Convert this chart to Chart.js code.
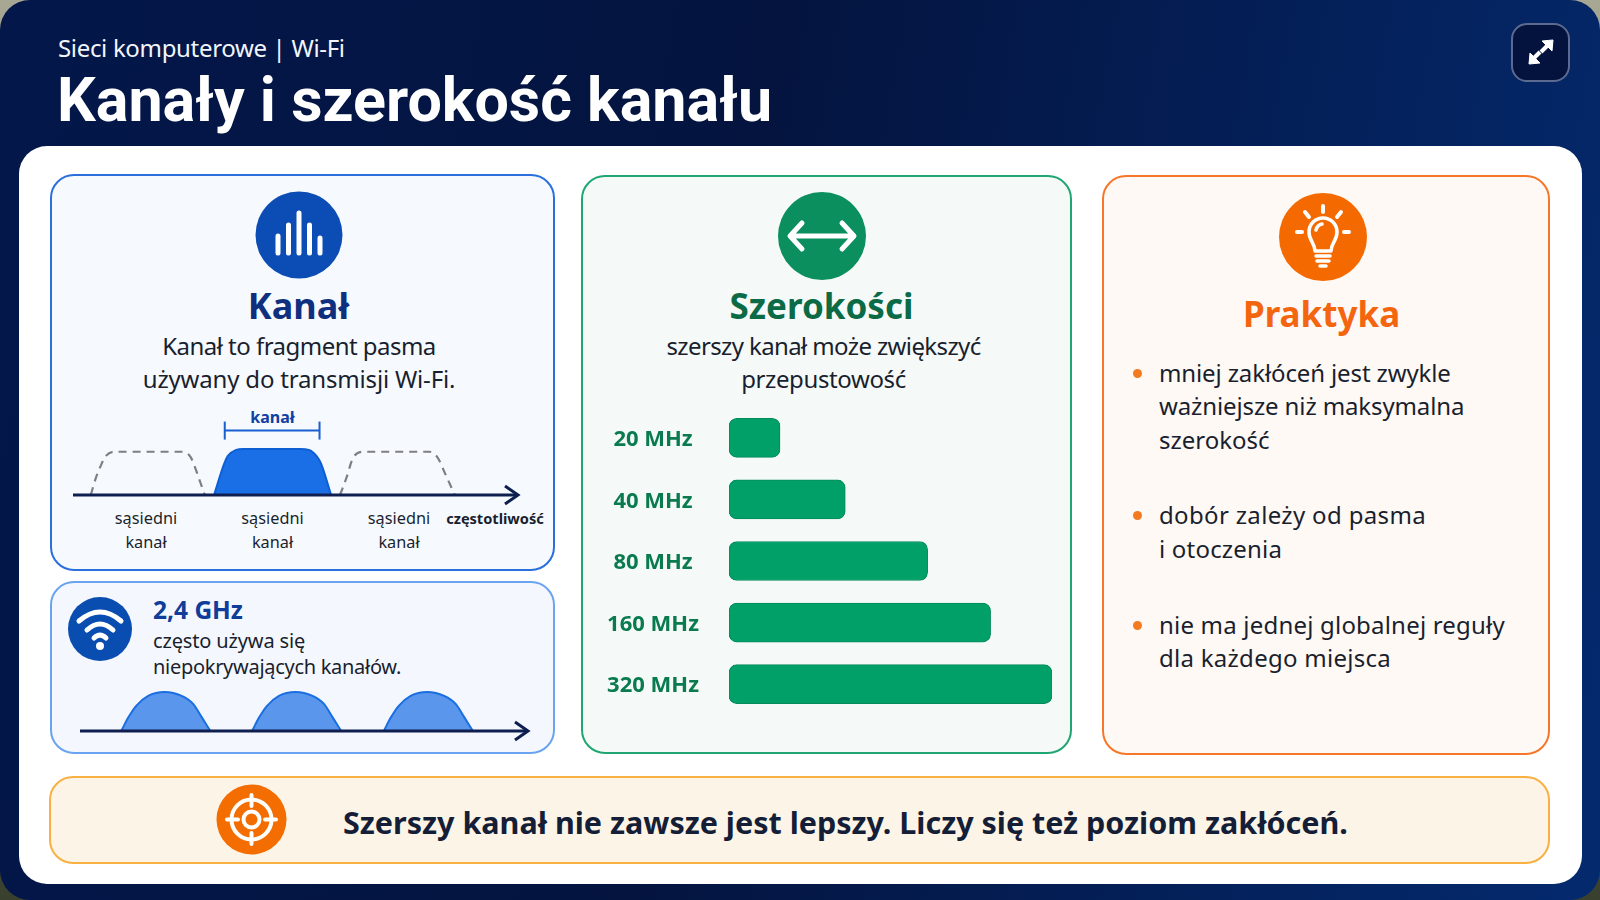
<!DOCTYPE html>
<html lang="pl">
<head>
<meta charset="utf-8">
<title>Kanały i szerokość kanału</title>
<script src="https://cdn.jsdelivr.net/npm/chart.js@4/dist/chart.umd.min.js"></script>
<style>
  html, body { margin: 0; width: 1600px; height: 900px; overflow: hidden; background: linear-gradient(#a7a794, #39402e); font-family: "Noto Sans", sans-serif; color: #1a1f2e; }
  #slide { position: absolute; inset: 0; border-radius: 30px; background: linear-gradient(100deg, #03174a, #04143f 45%, #042a6e); overflow: hidden; }
  #sheet { position: absolute; left: 18.5px; top: 146px; width: 1563px; height: 738px; background: #fff; border-radius: 28px; }
  .card { position: absolute; box-sizing: border-box; border: 2px solid; border-radius: 24px; }
  .t { position: absolute; white-space: nowrap; transform: translateY(-50%); line-height: 1.2; }
  .c { transform: translate(-50%, -50%); }
  .b { font-weight: 700; }
  .dot { position: absolute; width: 9px; height: 9px; border-radius: 50%; background: #f47a20; }
  canvas, svg { position: absolute; }
  #expand { position: absolute; left: 1511px; top: 22.5px; width: 59px; height: 59px; box-sizing: border-box; border: 2px solid #5b6a8e; border-radius: 16px; background: #04133d; }
</style>
</head>
<body>
<div id="slide">
  <div class="t" style="left:58px;top:47.5px;font-size:24px;letter-spacing:-0.33px;color:#f2f5fb">Sieci komputerowe | Wi-Fi</div>
  <div class="t b" style="left:57px;top:101px;font-family:Roboto;font-size:61px;color:#fff">Kanały i szerokość kanału</div>
  <div id="expand"></div>
  <svg style="left:1511px;top:22px" width="59" height="59" fill="#fff" stroke="#fff" stroke-width="4">
    <path d="M36 24 L30 30" fill="none"/><path d="M23 36 L29 30" fill="none" stroke-dasharray="0"/>
    <path d="M42 18 L31 19 L41 29 Z" stroke-width="1"/><path d="M18 42 L29 41 L19 31 Z" stroke-width="1"/>
  </svg>
  <div id="sheet"></div>
</div>

<div class="card" style="left:50px;top:174px;width:505px;height:397px;border-color:#2a6fdc;background:#f6fafe"></div>
<div class="card" style="left:50px;top:581px;width:505px;height:173px;border-color:#6aa3ef;background:#f4f8fe"></div>
<div class="card" style="left:581px;top:175px;width:491px;height:579px;border-color:#1fa672;background:#f5faf9"></div>
<div class="card" style="left:1102px;top:175px;width:448px;height:580px;border-color:#f5772a;background:#fef9f4"></div>
<div class="card" style="left:49px;top:776px;width:1501px;height:88px;border-color:#f8b040;background:#fdf4e8"></div>

<!-- ikony -->
<svg style="left:255px;top:191px" width="88" height="88" fill="none" stroke="#fff" stroke-width="5" stroke-linecap="round">
  <circle cx="44" cy="44" r="43.5" fill="#0b4db5" stroke="none"/>
  <path d="M23 45 V62 M33.5 34 V62 M44 22 V62 M54.5 34 V62 M65 47 V62"/>
</svg>
<svg style="left:778px;top:192px" width="88" height="88" fill="none" stroke="#fff" stroke-width="5" stroke-linecap="round" stroke-linejoin="round">
  <circle cx="44" cy="44" r="44" fill="#0b8f5e" stroke="none"/>
  <path d="M14 44 H74 M24 31 L12 44 L24 57 M64 31 L76 44 L64 57"/>
</svg>
<svg style="left:1279px;top:193px" width="88" height="88" fill="none" stroke="#fff" stroke-width="3.5" stroke-linecap="round" stroke-linejoin="round">
  <circle cx="44" cy="44" r="44" fill="#f56a00" stroke="none"/>
  <path d="M36 58 C36 50 30 48 30 39 A14 14 0 0 1 58 39 C58 48 52 50 52 58 Z"/>
  <path d="M37 63 H51 M38 68 H50 M41 73 H47 M37 37 A8 8 0 0 1 43 31"/>
  <path d="M44 13 V19 M26 19 L30 24 M62 19 L58 24 M18 39 H23 M65 39 H70" stroke-width="4"/>
</svg>
<svg style="left:68px;top:597px" width="64" height="64" fill="none" stroke="#fff" stroke-width="5" stroke-linecap="round">
  <circle cx="32" cy="32" r="32" fill="#0a4db0" stroke="none"/>
  <path d="M11 24 Q32 6 53 24 M19 33 Q32 21 45 33 M26 41 Q32 35 38 41"/>
  <circle cx="32" cy="49" r="4" fill="#fff" stroke="none"/>
</svg>
<svg style="left:216px;top:784px" width="71" height="71" fill="none" stroke="#fff" stroke-width="4" stroke-linecap="round">
  <circle cx="35.5" cy="35.5" r="35" fill="#f36d00" stroke="none"/>
  <circle cx="35.5" cy="35.5" r="20"/><circle cx="35.5" cy="35.5" r="8"/>
  <path d="M35.5 11 V22 M35.5 49 V60 M11 35.5 H22 M49 35.5 H60"/>
</svg>

<!-- karta Kanał -->
<div class="t c b" style="left:298.5px;top:306px;font-size:36px;color:#0f2f7f">Kanał</div>
<div class="t c" style="left:299px;top:346px;font-size:24px;letter-spacing:-0.53px">Kanał to fragment pasma</div>
<div class="t c" style="left:299px;top:378.5px;font-size:24px;letter-spacing:-0.18px">używany do transmisji Wi-Fi.</div>
<div class="t c b" style="left:272.5px;top:418px;font-size:16px;color:#1040a0">kanał</div>
<canvas id="channelChart" width="469" height="99" style="left:61px;top:408px"></canvas>
<div class="t c" style="left:146px;top:519px;font-size:16.3px">sąsiedni</div>
<div class="t c" style="left:146px;top:542.5px;font-size:16.3px">kanał</div>
<div class="t c" style="left:272.5px;top:519px;font-size:16.3px">sąsiedni</div>
<div class="t c" style="left:272.5px;top:542.5px;font-size:16.3px">kanał</div>
<div class="t c" style="left:399px;top:519px;font-size:16.3px">sąsiedni</div>
<div class="t c" style="left:399px;top:542.5px;font-size:16.3px">kanał</div>
<div class="t c b" style="left:495px;top:519px;font-size:14.6px">częstotliwość</div>

<!-- karta 2,4 GHz -->
<div class="t b" style="left:153px;top:609.5px;font-size:24.5px;color:#0f3d99">2,4 GHz</div>
<div class="t" style="left:153px;top:641px;font-size:20px;letter-spacing:-0.15px">często używa się</div>
<div class="t" style="left:153px;top:667px;font-size:20px;letter-spacing:-0.29px">niepokrywających kanałów.</div>
<canvas id="wifiChart" width="472" height="63" style="left:68px;top:680px"></canvas>

<!-- karta Szerokości -->
<div class="t c b" style="left:821.5px;top:306px;font-size:35px;color:#0b6b46">Szerokości</div>
<div class="t c" style="left:823.5px;top:346px;font-size:24px;letter-spacing:-0.62px">szerszy kanał może zwiększyć</div>
<div class="t c" style="left:823.5px;top:378.5px;font-size:24px;letter-spacing:-0.39px">przepustowość</div>
<canvas id="widthChart" width="452" height="308" style="left:600px;top:407px"></canvas>

<!-- karta Praktyka -->
<div class="t c b" style="left:1321.5px;top:314px;font-size:35px;color:#f4650f">Praktyka</div>
<span class="dot" style="left:1133px;top:369px"></span>
<div class="t" style="left:1159px;top:372.5px;font-size:24px;letter-spacing:-0.12px">mniej zakłóceń jest zwykle</div>
<div class="t" style="left:1159px;top:406px;font-size:24px;letter-spacing:-0.12px">ważniejsze niż maksymalna</div>
<div class="t" style="left:1159px;top:440px;font-size:24px">szerokość</div>
<span class="dot" style="left:1133px;top:511px"></span>
<div class="t" style="left:1159px;top:515px;font-size:24px;letter-spacing:0.34px">dobór zależy od pasma</div>
<div class="t" style="left:1159px;top:549px;font-size:24px;letter-spacing:0.2px">i otoczenia</div>
<span class="dot" style="left:1133px;top:621px"></span>
<div class="t" style="left:1159px;top:625px;font-size:24px;letter-spacing:0.2px">nie ma jednej globalnej reguły</div>
<div class="t" style="left:1159px;top:658px;font-size:24px;letter-spacing:0.27px">dla każdego miejsca</div>

<!-- pasek dolny -->
<div class="t b" style="left:343px;top:822px;font-size:30.5px;color:#141e36">Szerszy kanał nie zawsze jest lepszy. Liczy się też poziom zakłóceń.</div>

<script>
// szerokosci kanalow - dlugosc paskow (% najdluzszego)
const widthLabels = ["20 MHz", "40 MHz", "80 MHz", "160 MHz", "320 MHz"];
const widthValues = [15.8, 36, 61.5, 81, 100];

// os czestotliwosci, widmo kanalow (x: 0-100 osi, y: poziom)
const axisX = [0, 100];
const axisY = [0, 0];

const leftX = [4, 5.1, 6.3, 7.4, 9.3, 24.5, 26.4, 27.5, 28.7, 29.6];
const leftY = [0, 36, 65, 85, 94, 94, 83, 58, 25, 0];
const midX = [31.7, 34, 34.8, 36.7, 38.2, 51.1, 53, 54.7, 55.7, 58];
const midY = [0, 69, 85, 98, 100, 100, 98, 85, 69, 0];
const rightX = [60, 61.4, 62.9, 65.2, 80, 81.9, 83.6, 85.8];
const rightY = [0, 36, 80, 94, 94, 82, 47, 0];
const bracketX = [34.1, 55.4];
const bracketY = [140, 140];

// 2,4 GHz - trzy kanaly bez nakladania
const wifi1X = [9.2, 10.8, 12.5, 15.2, 18.9, 22.7, 25.3, 27.2, 29.1];
const wifi2X = [38.4, 40, 41.7, 44.4, 48.1, 51.9, 54.5, 56.4, 58.3];
const wifi3X = [67.8, 69.4, 71.1, 73.8, 77.5, 81.3, 83.9, 85.8, 87.7];
const wifiY = [0, 35, 64, 90, 100, 90, 69, 35, 0];

function points(xs, ys) {
  return xs.map((x, i) => ({ x: x, y: ys[i] }));
}

// grot na koncu osi
const arrowHead = {
  id: "arrowHead",
  afterDatasetsDraw(chart) {
    const x = chart.scales.x.getPixelForValue(100);
    const y = chart.scales.y.getPixelForValue(0);
    const ctx = chart.ctx;
    ctx.save();
    ctx.strokeStyle = "#0e1f4f";
    ctx.lineWidth = 3;
    ctx.beginPath();
    ctx.moveTo(x - 13, y - 9);
    ctx.lineTo(x, y);
    ctx.lineTo(x - 13, y + 9);
    ctx.stroke();
    ctx.restore();
  },
};

function spectrumOptions(yMax) {
  return {
    responsive: false,
    maintainAspectRatio: false,
    animation: false,
    layout: { padding: 12 },
    plugins: { legend: { display: false }, tooltip: { enabled: false } },
    scales: {
      x: { type: "linear", display: false, min: 0, max: 100 },
      y: { display: false, min: 0, max: yMax },
    },
    elements: { point: { radius: 0 } },
  };
}

function axisDataset() {
  return { data: points(axisX, axisY), borderColor: "#0e1f4f", borderWidth: 3, clip: false };
}

function dashed(xs, ys) {
  return {
    data: points(xs, ys),
    borderColor: "#7d7f84",
    borderWidth: 2.2,
    borderDash: [8, 6],
    cubicInterpolationMode: "monotone",
    clip: false,
  };
}

function filled(xs, ys, fillColor, lineColor) {
  return {
    data: points(xs, ys),
    borderColor: lineColor,
    borderWidth: 2,
    backgroundColor: fillColor,
    fill: "origin",
    cubicInterpolationMode: "monotone",
    clip: false,
  };
}

new Chart(document.getElementById("channelChart"), {
  type: "line",
  data: {
    datasets: [
      axisDataset(),
      {
        data: points(bracketX, bracketY),
        borderColor: "#1a5fd0",
        borderWidth: 2,
        pointRadius: 9,
        pointStyle: "line",
        pointRotation: 90,
        pointBorderColor: "#1a5fd0",
        pointBorderWidth: 2,
        clip: false,
      },
      filled(midX, midY, "#1a6fe6", "#0f5fd4"),
      dashed(leftX, leftY),
      dashed(rightX, rightY),
    ],
  },
  options: spectrumOptions(163),
  plugins: [arrowHead],
});

new Chart(document.getElementById("wifiChart"), {
  type: "line",
  data: {
    datasets: [
      axisDataset(),
      filled(wifi1X, wifiY, "#5a96ec", "#1a6ee0"),
      filled(wifi2X, wifiY, "#5a96ec", "#1a6ee0"),
      filled(wifi3X, wifiY, "#5a96ec", "#1a6ee0"),
    ],
  },
  options: spectrumOptions(100),
  plugins: [arrowHead],
});

new Chart(document.getElementById("widthChart"), {
  type: "bar",
  data: {
    labels: widthLabels,
    datasets: [
      {
        data: widthValues,
        backgroundColor: "#01a068",
        borderColor: "#058a5c",
        borderWidth: 1,
        borderSkipped: false,
        borderRadius: 8,
        barThickness: 39,
      },
    ],
  },
  options: {
    indexAxis: "y",
    responsive: false,
    maintainAspectRatio: false,
    animation: false,
    plugins: { legend: { display: false }, tooltip: { enabled: false } },
    scales: {
      x: { display: false, min: 0, max: 100 },
      y: {
        // ticks.padding also pads top/bottom of the axis, cancel that
        afterFit(axis) {
          axis.width = 129;
          axis.paddingTop = 0;
          axis.paddingBottom = 0;
        },
        grid: { display: false, drawTicks: false },
        border: { display: false },
        ticks: {
          padding: 30,
          labelOffset: 2,
          crossAlign: "center",
          color: "#0a7a4f",
          font: { family: "Noto Sans", size: 22, weight: "700" },
        },
      },
    },
  },
});
</script>
</body>
</html>
